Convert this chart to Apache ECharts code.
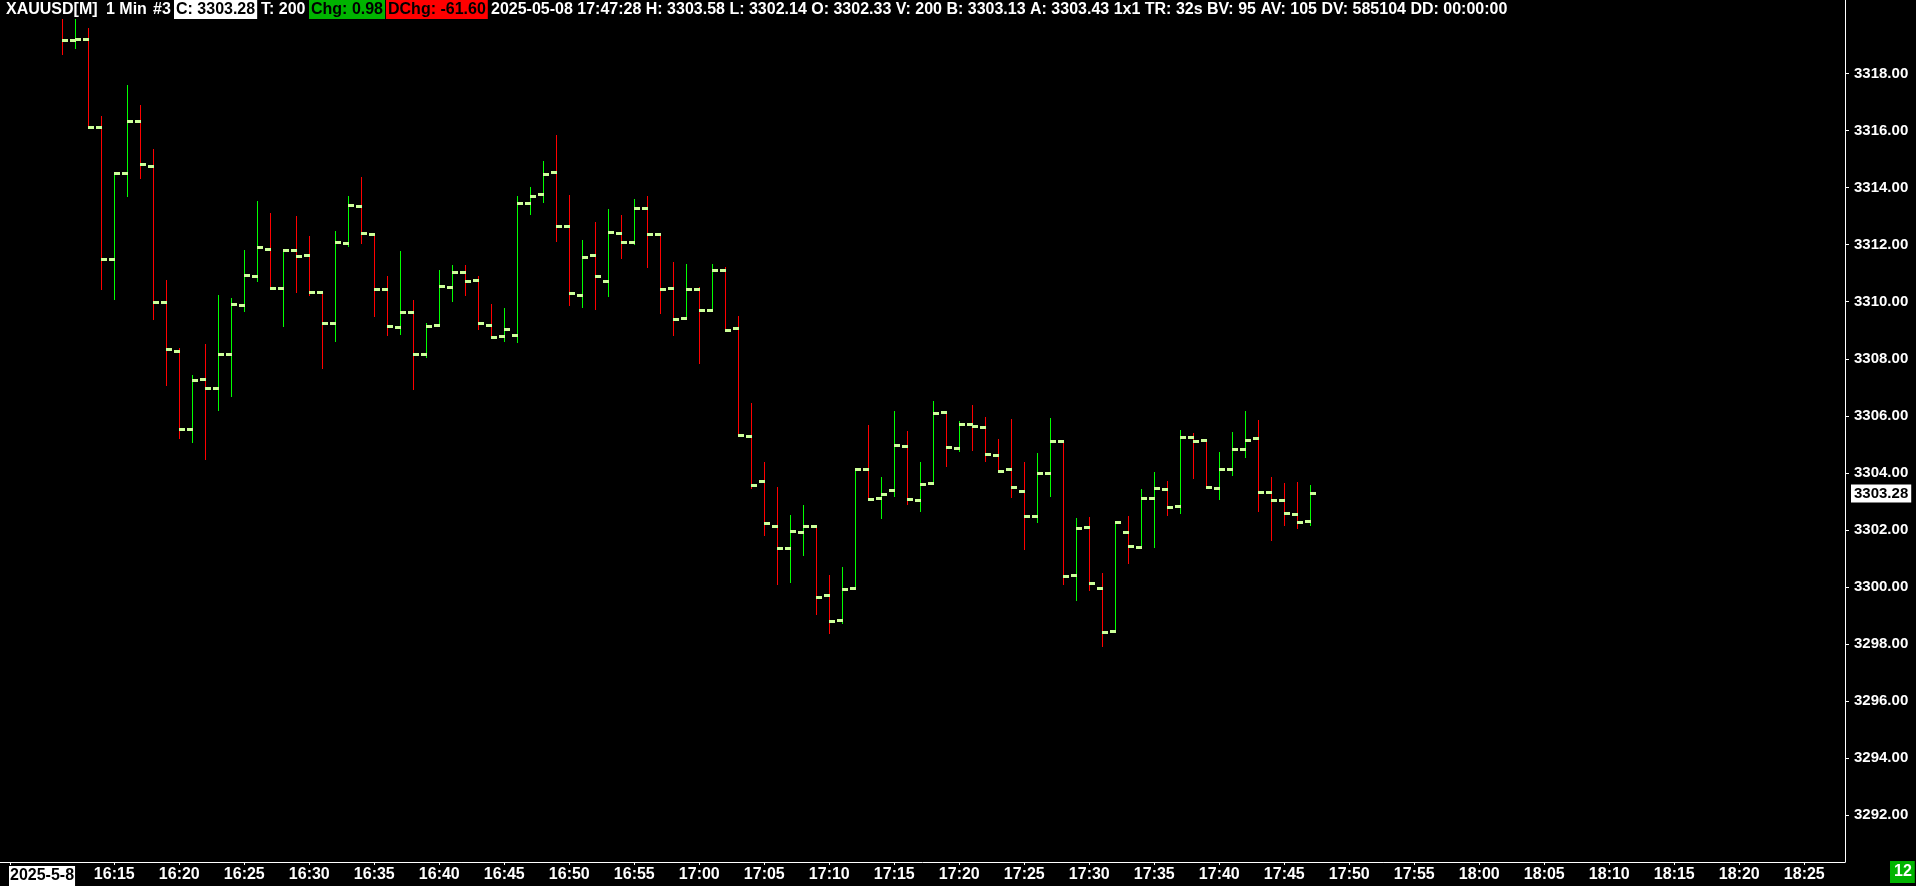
<!DOCTYPE html>
<html><head><meta charset="utf-8">
<script src="https://cdn.jsdelivr.net/npm/echarts@6/dist/echarts.min.js"></script>
<style>html,body{margin:0;padding:0;background:#000;overflow:hidden}#c{width:1916px;height:886px}</style>
</head><body><div id="c"></div>
<script>
// ---- data ----
const firstBarTime = '16:11';
const opens = [null, 3319.16, 3319.20, 3316.14, 3311.49, 3314.52, 3316.34, 3314.75, 3309.98, 3308.26,
 3305.53, 3307.28, 3306.97, 3308.16, 3309.88, 3310.89, 3311.85, 3310.47, 3311.81, 3311.63,
 3310.33, 3309.24, 3312.05, 3313.35, 3312.38, 3310.44, 3309.10, 3309.63, 3308.16, 3309.17,
 3310.50, 3311.03, 3310.75, 3309.17, 3308.79, 3308.82, 3313.45, 3313.77, 3314.54, 3312.64,
 3310.23, 3311.63, 3310.72, 3312.40, 3312.08, 3313.27, 3312.36, 3310.47, 3309.42, 3310.44,
 3309.70, 3311.10, 3309.07, 3305.28, 3303.71, 3302.13, 3301.36, 3301.92, 3302.13, 3299.71,
 3298.83, 3299.96, 3304.13, 3303.11, 3303.39, 3304.93, 3303.04, 3303.64, 3306.12, 3304.86,
 3305.70, 3305.60, 3304.62, 3304.13, 3303.36, 3302.48, 3303.99, 3305.11, 3300.41, 3302.09,
 3299.96, 3298.45, 3301.92, 3301.39, 3303.11, 3303.43, 3302.83, 3305.25, 3305.14, 3303.46,
 3304.13, 3304.83, 3305.21, 3303.32, 3303.04, 3302.55, 3302.33];
const highs = [3319.91, 3319.91, 3319.60, 3316.51, 3314.55, 3317.60, 3316.90, 3315.35, 3310.76, 3308.37,
 3307.42, 3308.52, 3310.24, 3310.13, 3311.81, 3313.53, 3313.11, 3311.81, 3313.00, 3312.30,
 3310.33, 3312.48, 3313.71, 3314.38, 3312.40, 3310.90, 3311.78, 3310.06, 3309.24, 3311.11,
 3311.29, 3311.29, 3310.90, 3309.92, 3309.77, 3313.71, 3314.01, 3314.93, 3315.84, 3313.74,
 3312.16, 3312.80, 3313.25, 3313.04, 3313.60, 3313.71, 3312.36, 3311.39, 3311.32, 3310.51,
 3311.32, 3311.21, 3309.50, 3306.44, 3304.38, 3303.51, 3302.52, 3302.88, 3302.13, 3300.42,
 3300.70, 3304.13, 3305.68, 3303.86, 3306.17, 3305.47, 3304.38, 3306.52, 3306.12, 3305.82,
 3306.38, 3305.96, 3305.19, 3305.89, 3304.38, 3304.70, 3305.92, 3305.11, 3302.42, 3302.45,
 3300.49, 3302.27, 3302.49, 3303.44, 3304.03, 3303.72, 3305.50, 3305.39, 3305.14, 3304.73,
 3305.43, 3306.17, 3305.85, 3303.86, 3303.65, 3303.68, 3303.58];
const lows = [3318.65, 3318.86, 3316.08, 3310.41, 3310.07, 3313.68, 3314.30, 3309.36, 3307.06, 3305.19,
 3305.06, 3304.45, 3306.18, 3306.67, 3309.65, 3310.70, 3310.45, 3309.12, 3310.32, 3310.21,
 3307.63, 3308.60, 3311.93, 3312.02, 3309.48, 3308.81, 3308.83, 3306.91, 3308.04, 3309.12,
 3310.00, 3310.21, 3309.01, 3308.75, 3308.60, 3308.56, 3313.04, 3313.47, 3312.10, 3309.86,
 3309.79, 3309.72, 3310.18, 3311.51, 3311.99, 3311.19, 3309.58, 3308.81, 3309.42, 3307.83,
 3309.70, 3309.00, 3305.25, 3303.44, 3301.80, 3300.08, 3300.15, 3301.10, 3299.03, 3298.36,
 3298.72, 3299.96, 3303.08, 3302.40, 3303.17, 3302.88, 3302.64, 3303.64, 3304.22, 3304.74,
 3304.78, 3304.39, 3304.00, 3303.13, 3301.30, 3302.24, 3303.17, 3300.07, 3299.52, 3299.87,
 3297.91, 3298.41, 3300.82, 3301.36, 3301.38, 3302.50, 3302.57, 3303.80, 3303.46, 3303.06,
 3303.90, 3304.53, 3302.64, 3301.62, 3302.15, 3302.05, 3302.14];
const closes = [3319.16, 3319.20, 3316.14, 3311.49, 3314.52, 3316.34, 3314.82, 3309.98, 3308.33, 3305.53,
 3307.26, 3306.97, 3308.16, 3309.91, 3310.93, 3311.91, 3310.48, 3311.81, 3311.60, 3310.33,
 3309.24, 3312.08, 3313.38, 3312.42, 3310.44, 3309.14, 3309.63, 3308.16, 3309.15, 3310.54,
 3311.03, 3310.72, 3309.24, 3308.75, 3309.03, 3313.45, 3313.70, 3314.47, 3312.64, 3310.30,
 3311.56, 3310.89, 3312.43, 3312.08, 3313.27, 3312.36, 3310.44, 3309.38, 3310.44, 3309.70,
 3311.10, 3309.00, 3305.32, 3303.57, 3302.23, 3301.36, 3301.95, 3302.13, 3299.64, 3298.80,
 3299.92, 3304.13, 3303.08, 3303.25, 3304.97, 3303.08, 3303.60, 3306.09, 3304.90, 3305.70,
 3305.63, 3304.65, 3304.07, 3303.51, 3302.48, 3303.99, 3305.11, 3300.38, 3302.06, 3300.13,
 3298.41, 3302.27, 3301.43, 3303.11, 3303.46, 3302.80, 3305.25, 3305.11, 3303.50, 3304.13,
 3304.83, 3305.14, 3303.32, 3303.04, 3302.58, 3302.27, 3303.28];
const xTickLabels = ['16:15','16:20','16:25','16:30','16:35','16:40','16:45','16:50','16:55','17:00',
 '17:05','17:10','17:15','17:20','17:25','17:30','17:35','17:40','17:45','17:50','17:55','18:00',
 '18:05','18:10','18:15','18:20','18:25'];
const yTicks = [3292, 3294, 3296, 3298, 3300, 3302, 3304, 3306, 3308, 3310, 3312, 3314, 3316, 3318];
const dateTickTime = '16:07';
const dateLabel = '2025-5-8';
const headerTexts = ['XAUUSD[M]', '1 Min', '#3', 'C: 3303.28', 'T: 200', 'Chg: 0.98', 'DChg: -61.60',
 '2025-05-08 17:47:28 H: 3303.58 L: 3302.14 O: 3302.33 V: 200 B: 3303.13 A: 3303.43 1x1 TR: 32s BV: 95 AV: 105 DV: 585104 DD: 00:00:00'];
const cornerText = '12';

// ---- layout ----
const FONT = '"Liberation Sans", Arial, sans-serif';
const XMIN = 6.208, XMAX = 148.13;   // visible minute range (minutes after 16:00)
const YMIN = 3290, YMAX = 3320;
const GREEN = '#00ff00', RED = '#ff0000', TICK = '#ccff99';

function toMin(t){ const p = t.split(':').map(Number); return p[0]*60 + p[1] - 960; }
function fmtMin(v){ const t = Math.round(v) + 960; return Math.floor(t/60) + ':' + String(t%60).padStart(2,'0'); }

const t0 = toMin(firstBarTime);
const bars = closes.map((c, i) => [t0 + i, highs[i], lows[i], c]);
const xLabelVals = xTickLabels.map(toMin);
const xTickVals = [toMin(dateTickTime)].concat(xLabelVals);

function renderItem(params, api){
  const i = params.dataIndex;
  const t = api.value(0), h = api.value(1), l = api.value(2), c = api.value(3);
  const o = opens[i];
  const pH = api.coord([t, h]), pL = api.coord([t, l]), pC = api.coord([t, c]);
  const cx = Math.round(pH[0]);
  const up = (o == null) ? (c >= (h + l) / 2) : (c >= o);
  const col = up ? GREEN : RED;
  const children = [{
    type: 'rect',
    shape: { x: cx, y: Math.round(pH[1]), width: 1, height: Math.max(1, Math.round(pL[1]) - Math.round(pH[1])) },
    style: { fill: col }
  }];
  if (o != null) {
    const pO = api.coord([t, o]);
    children.push({ type: 'rect', shape: { x: cx - 5, y: Math.round(pO[1]) - 1, width: 6, height: 3 }, style: { fill: TICK } });
  }
  children.push({ type: 'rect', shape: { x: cx, y: Math.round(pC[1]) - 1, width: 6, height: 3 }, style: { fill: TICK } });
  return { type: 'group', children };
}

const chart = echarts.init(document.getElementById('c'), null, { renderer: 'canvas' });

const hdrFont = 'bold 16px ' + FONT;
const hdrX = [6, 106, 153, 174, 261, 309, 386, 491];
const hdrStyle = [
  { fill: '#fff' }, { fill: '#fff' }, { fill: '#fff' },
  { fill: '#000', backgroundColor: '#fff', padding: [2, 2, 1, 2] },
  { fill: '#fff' },
  { fill: '#000', backgroundColor: '#00b400', padding: [2, 2, 1, 2] },
  { fill: '#000', backgroundColor: '#ff0000', padding: [2, 2, 1, 2] },
  { fill: '#fff' }
];
const graphics = headerTexts.map((txt, k) => ({
  type: 'text', id: 'h' + k, x: hdrX[k], y: hdrStyle[k].padding ? 0 : 2, z: 100,
  style: Object.assign({ text: txt, font: hdrFont }, hdrStyle[k])
}));
graphics.push({ type: 'text', id: 'date', x: 9, y: 866, z: 100,
  style: { text: dateLabel, font: hdrFont, fill: '#000', backgroundColor: '#fff', padding: [2, 1, 2, 1] } });
graphics.push({ type: 'text', id: 'corner', x: 1890, y: 861, z: 100,
  style: { text: cornerText, font: hdrFont, fill: '#fff', backgroundColor: '#00b400', padding: [3, 3, 3, 4] } });

chart.setOption({
  backgroundColor: '#000',
  animation: false,
  grid: [
    { left: 0, right: 71, top: 16.44, bottom: 13.66 },
    { left: 0, right: 71, top: 0, bottom: 24 }
  ],
  xAxis: [
    { type: 'value', gridIndex: 0, min: XMIN, max: XMAX, show: false },
    { type: 'value', gridIndex: 1, min: XMIN, max: XMAX,
      axisLine: { show: true, lineStyle: { color: '#fff', width: 1 } },
      axisTick: { show: true, customValues: xTickVals, length: 3, lineStyle: { color: '#fff' } },
      axisLabel: { show: true, customValues: xLabelVals, formatter: fmtMin, color: '#fff',
        fontFamily: FONT, fontWeight: 'bold', fontSize: 16, margin: 5 },
      splitLine: { show: false } }
  ],
  yAxis: [
    { type: 'value', gridIndex: 0, position: 'right', min: YMIN, max: YMAX,
      axisLine: { show: false },
      axisTick: { show: true, customValues: yTicks, length: 4, lineStyle: { color: '#fff' } },
      axisLabel: { show: true, customValues: yTicks, formatter: v => Number(v).toFixed(2), color: '#fff',
        fontFamily: FONT, fontWeight: 'bold', fontSize: 15, margin: 9 },
      splitLine: { show: false } },
    { type: 'value', gridIndex: 1, position: 'right', min: 0, max: 1,
      axisLine: { show: true, lineStyle: { color: '#fff', width: 1 } },
      axisTick: { show: false }, axisLabel: { show: false }, splitLine: { show: false } }
  ],
  series: [{
    type: 'custom', xAxisIndex: 0, yAxisIndex: 0, data: bars, renderItem, clip: true
  }],
  graphic: { elements: graphics }
});

// current price label on the price axis
const lastClose = closes[closes.length - 1];
const py = chart.convertToPixel({ yAxisIndex: 0 }, lastClose);
chart.setOption({ graphic: { elements: [{
  type: 'text', id: 'price', x: 1851, y: py, z: 100,
  style: { text: lastClose.toFixed(2), font: 'bold 15px ' + FONT, fill: '#000', backgroundColor: '#fff',
    padding: [2, 3, 1, 3], verticalAlign: 'middle' }
}] } });
</script></body></html>
